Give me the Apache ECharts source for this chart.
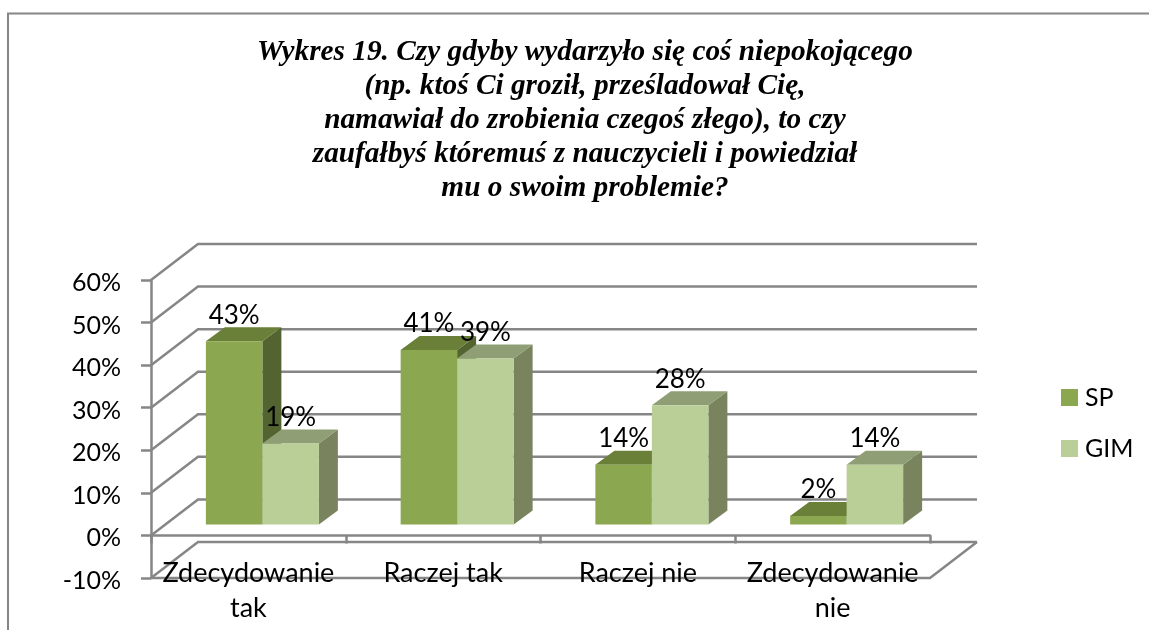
<!DOCTYPE html>
<html>
<head>
<meta charset="utf-8">
<style>
  html, body { margin: 0; padding: 0; background: #fff; }
  #chart { width: 1149px; height: 630px; }
</style>
<script src="https://cdn.jsdelivr.net/npm/echarts@6/dist/echarts.min.js"></script>
</head>
<body>
<div id="chart"></div>
<script>
const categories = ["Zdecydowanie\ntak", "Raczej tak", "Raczej nie", "Zdecydowanie\nnie"];
const spValues = [43, 41, 14, 2];
const gimValues = [19, 39, 28, 14];
const yTicks = [-10, 0, 10, 20, 30, 40, 50, 60];
const titleLines = [
  "Wykres 19. Czy gdyby wydarzyło się coś niepokojącego",
  "(np. ktoś Ci groził, prześladował Cię,",
  "namawiał do zrobienia czegoś złego), to czy",
  "zaufałbyś któremuś z nauczycieli i powiedział",
  "mu o swoim problemie?"
];

// pseudo 3D: how far the back wall and the bars sit behind the front plane
const WALL_DX = 47, WALL_DY = -36;
const BAR_SHIFT_X = 14, BAR_SHIFT_Y = -11;
const BAR_DX = 19, BAR_DY = -14;
const BAR_WIDTH = 56.5;
const LINE = "#868686";
const FONT = "Lato";

const myChart = echarts.init(document.getElementById("chart"));

function wallItem(params, api) {
  const tick = api.value(0);
  const x0 = params.coordSys.x;
  const x1 = x0 + params.coordSys.width;
  const p = api.coord([0, tick]);
  const style = { stroke: LINE, lineWidth: 2.5, fill: null };
  const pts = [[x0, p[1]], [x0 + WALL_DX, p[1] + WALL_DY], [x1 + WALL_DX, p[1] + WALL_DY]];
  const children = [{ type: "polyline", shape: { points: pts }, style: style }];
  // floor outline at the bottom of the axis
  if (tick === yTicks[0]) {
    children.push({
      type: "polyline",
      shape: { points: [[x1 + WALL_DX, p[1] + WALL_DY], [x1, p[1]], [x0, p[1]]] },
      style: style
    });
  }
  return { type: "group", children: children };
}

function barRenderer(slot, front, top, side) {
  return function (params, api) {
    const idx = api.value(0);
    const val = api.value(1);
    const base = api.coord([idx, 0]);
    const head = api.coord([idx, val]);
    const cx = base[0] + BAR_SHIFT_X;
    const x0 = cx + (slot - 1) * BAR_WIDTH;
    const x1 = x0 + BAR_WIDTH;
    const yb = base[1] + BAR_SHIFT_Y;
    const yt = head[1] + BAR_SHIFT_Y;
    return {
      type: "group",
      children: [
        { type: "polygon", shape: { points: [[x1, yb], [x1 + BAR_DX, yb + BAR_DY], [x1 + BAR_DX, yt + BAR_DY], [x1, yt]] }, style: { fill: side } },
        { type: "polygon", shape: { points: [[x0, yt], [x0 + BAR_DX, yt + BAR_DY], [x1 + BAR_DX, yt + BAR_DY], [x1, yt]] }, style: { fill: top } },
        { type: "rect", shape: { x: x0, y: yt, width: BAR_WIDTH, height: yb - yt }, style: { fill: front } },
        {
          type: "text",
          z2: 100,
          style: {
            text: val + "%",
            x: (x0 + x1) / 2,
            y: yt + BAR_DY - 12,
            align: "center",
            verticalAlign: "middle",
            fill: "#000",
            font: "26px " + FONT
          }
        }
      ]
    };
  };
}

const option = {
  animation: false,
  backgroundColor: "#fff",
  title: {
    text: titleLines.join("\n"),
    left: 580,
    top: 30,
    textAlign: "center",
    textStyle: {
      fontFamily: "Liberation Serif",
      fontStyle: "italic",
      fontWeight: "bold",
      fontSize: 29.3,
      lineHeight: 34,
      color: "#000"
    }
  },
  legend: {
    orient: "vertical",
    left: 1056,
    top: 380,
    icon: "rect",
    itemWidth: 17,
    itemHeight: 17,
    itemGap: 26,
    textStyle: { fontFamily: FONT, fontSize: 25, color: "#000", padding: [0, 0, 0, 2] },
    data: ["SP", "GIM"]
  },
  grid: { left: 151, right: 219, top: 280, bottom: 52, outerBoundsMode: "none" },
  xAxis: {
    type: "category",
    z: 5,
    data: categories,
    axisLine: { onZero: true, lineStyle: { color: LINE, width: 2.5 } },
    axisTick: { show: true, length: 8, lineStyle: { color: LINE, width: 2.5 } },
    axisLabel: { margin: -22, color: "#000", fontFamily: FONT, fontSize: 27, lineHeight: 35, interval: 0 },
    splitLine: { show: false }
  },
  yAxis: {
    type: "value",
    min: -10,
    max: 60,
    interval: 10,
    axisLine: { show: true, lineStyle: { color: LINE, width: 2.5 } },
    axisTick: { show: true, length: 10, lineStyle: { color: LINE, width: 2.5 } },
    axisLabel: { margin: 30, color: "#000", fontFamily: FONT, fontSize: 25, verticalAlign: "top", lineHeight: 6, formatter: "{value}%" },
    splitLine: { show: false }
  },
  graphic: [
    {
      type: "polyline",
      silent: true,
      shape: { points: [[8, 630], [8, 13.5], [1149, 13.5]] },
      style: { stroke: LINE, lineWidth: 2, fill: null }
    }
  ],
  series: [
    {
      type: "custom",
      name: "wall",
      data: yTicks.map(function (t) { return [t]; }),
      encode: { y: 0 },
      renderItem: wallItem,
      silent: true,
      z: 1
    },
    {
      type: "custom",
      name: "SP",
      itemStyle: { color: "#8BA74F" },
      data: spValues.map(function (v, i) { return [i, v]; }),
      encode: { x: 0, y: 1 },
      renderItem: barRenderer(0, "#8BA74F", "#6A7F37", "#536430"),
      z: 3
    },
    {
      type: "custom",
      name: "GIM",
      itemStyle: { color: "#BACF97" },
      data: gimValues.map(function (v, i) { return [i, v]; }),
      encode: { x: 0, y: 1 },
      renderItem: barRenderer(1, "#BACF97", "#8F9E75", "#79845F"),
      z: 4
    }
  ]
};

option && myChart.setOption(option, true);
</script>
</body>
</html>
